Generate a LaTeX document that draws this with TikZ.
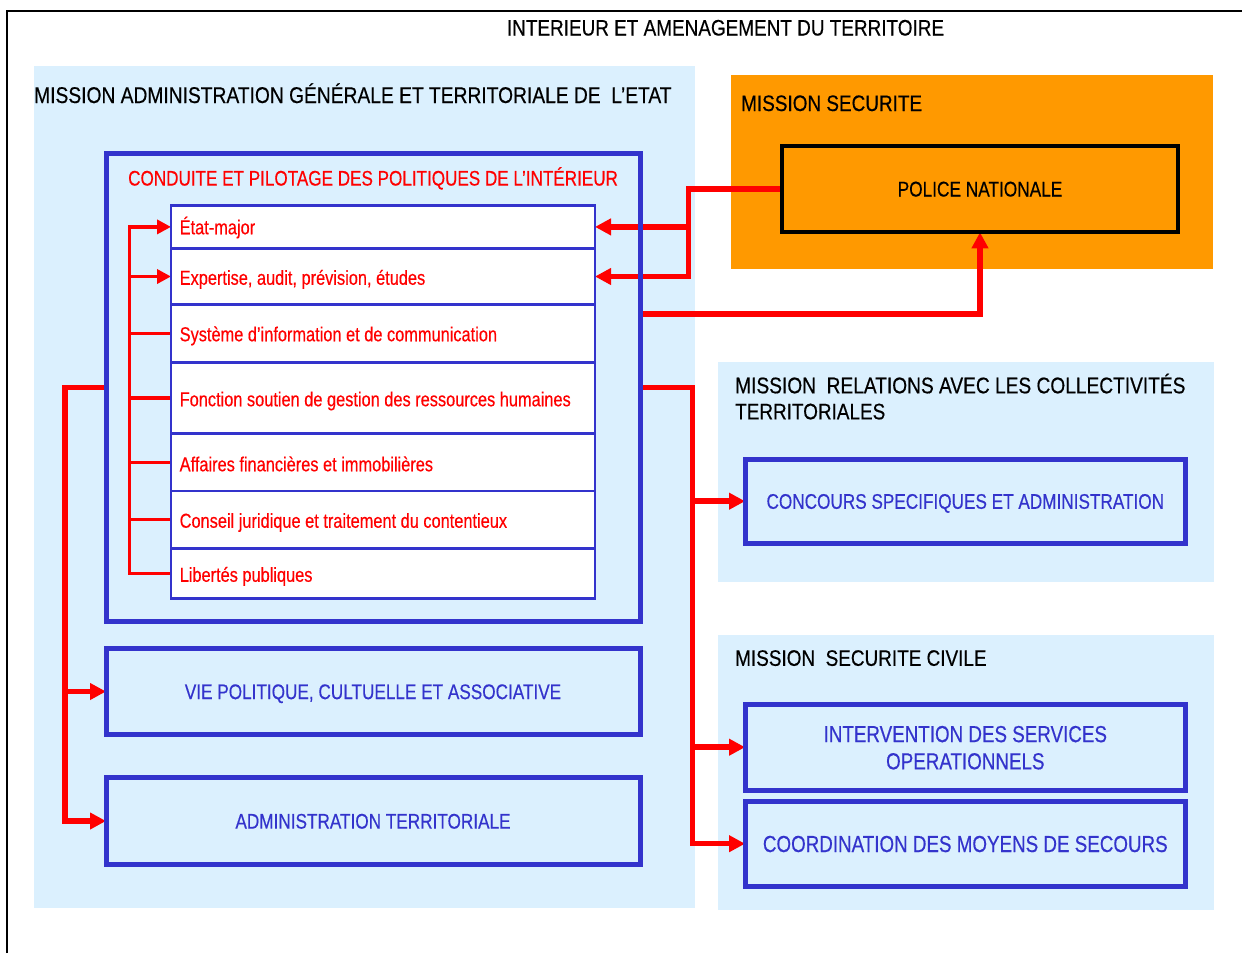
\documentclass[tikz,border=0pt]{standalone}
\usepackage{fontspec}
\setmainfont[FakeStretch=0.81,FakeBold=0.4]{Liberation Sans}
\newfontfamily\mfont[FakeStretch=0.845,FakeBold=0.4]{Liberation Sans}
\usetikzlibrary{arrows.meta,calc}
\definecolor{panel}{HTML}{DBF0FE}
\definecolor{orng}{HTML}{FF9900}
\definecolor{bl}{HTML}{3333CC}
\definecolor{rd}{HTML}{FF0000}
\pgfdeclarelayer{back}
\pgfdeclarelayer{mid}
\pgfsetlayers{back,mid,main}
\tikzset{
  bbox/.style={draw=bl, line width=5pt, inner sep=0pt, outer sep=0pt,
    minimum width=440.5pt, minimum height=85pt, text=bl,
    font=\fontsize{21.2}{25}\selectfont, text height=15.2pt, text depth=0pt},
  bigfont/.style={font=\fontsize{23.2}{27}\selectfont, text height=16.6pt, text depth=0pt},
  wbox/.style={bbox, minimum width=534pt, minimum height=86.5pt},
  rowbox/.style={draw=bl, line width=2.5pt, fill=white, inner sep=0pt, outer sep=0pt,
    minimum width=424pt},
  rowtxt/.style={anchor=west, inner sep=0pt, text=rd,
    font=\fontsize{20.2}{24}\selectfont, text height=14.5pt, text depth=0pt},
  btxt/.style={inner sep=0pt, text=bl, bigfont},
  mtxt/.style={anchor=west, inner sep=0pt, text=black,
    font=\mfont\fontsize{22.4}{27}\selectfont, text height=16pt, text depth=0pt},
  redthick/.style={draw=rd, line width=5.5pt},
  redthin/.style={draw=rd, line width=3.5pt},
  bigtip/.style={-{Triangle[length=16pt,width=16pt]}},
  smalltip/.style={{Triangle[length=14pt,width=14pt]}-},
}
\begin{document}
\begin{tikzpicture}[x=1pt,y=-1pt]
\useasboundingbox (0,0) rectangle (1242,953);
% panels
\begin{pgfonlayer}{back}
\fill[panel] (34,66) rectangle (695,908);
\fill[orng] (731,75) rectangle (1213,268.5);
\fill[panel] (718,362) rectangle (1214,582);
\fill[panel] (718,635) rectangle (1214,910);
\end{pgfonlayer}
% frame
\draw[line width=2pt] (7,953) -- (7,11) -- (1242,11);
% titles
\node[mtxt, anchor=center] (title) at (725.5,27.5) {INTERIEUR ET AMENAGEMENT DU TERRITOIRE};
\node[mtxt, font=\mfont\fontsize{22.75}{27}\selectfont] (madmin) at (34,95) {MISSION ADMINISTRATION GÉNÉRALE ET TERRITORIALE DE\ \ L’ETAT};
\node[mtxt] (msec) at (741,103) {MISSION SECURITE};
\node[mtxt, font=\mfont\fontsize{22.65}{27}\selectfont] (mrel1) at (735,385.3) {MISSION\ \ RELATIONS AVEC LES COLLECTIVITÉS};
\node[mtxt] (mrel2) at (735,411.3) {TERRITORIALES};
\node[mtxt] (mciv) at (735,657.8) {MISSION\ \ SECURITE CIVILE};
% police
\node[draw=black, line width=4pt, inner sep=0pt, outer sep=0pt, minimum width=396pt,
  minimum height=86.8pt, font=\fontsize{21.3}{25}\selectfont, text height=15.2pt,
  text depth=0pt] (police) at (980,188.9) {POLICE NATIONALE};
% conduite
\node[draw=bl, line width=5pt, inner sep=0pt, outer sep=0pt, minimum width=534pt,
  minimum height=468pt] (conduite) at (373,387.5) {};
\node[rowtxt, font=\fontsize{21.1}{25}\selectfont, text height=15.1pt] (ctitle) at (128,178) {CONDUITE ET PILOTAGE DES POLITIQUES DE L’INTÉRIEUR};
% rows
\node[rowbox, minimum height=42.8pt] (r1) at (383,226.9) {};
\node[rowbox, minimum height=56.4pt] (r2) at (383,276.5) {};
\node[rowbox, minimum height=57.6pt] (r3) at (383,333.5) {};
\node[rowbox, minimum height=71.4pt] (r4) at (383,398) {};
\node[rowbox, minimum height=57.3pt] (r5) at (383,462.35) {};
\node[rowbox, minimum height=57.3pt] (r6) at (383,519.65) {};
\node[rowbox, minimum height=50.4pt] (r7) at (383,573.5) {};
\node[rowtxt] (t1) at (179.5,227) {État-major};
\node[rowtxt] (t2) at (179.5,277.5) {Expertise, audit, prévision, études};
\node[rowtxt] (t3) at (179.5,334) {Système d’information et de communication};
\node[rowtxt] (t4) at (179.5,399) {Fonction soutien de gestion des ressources humaines};
\node[rowtxt] (t5) at (179.5,464) {Affaires financières et immobilières};
\node[rowtxt] (t6) at (179.5,520.5) {Conseil juridique et traitement du contentieux};
\node[rowtxt] (t7) at (179.5,574.5) {Libertés publiques};
% other boxes
\node[wbox] (vie) at (373,691.5) {VIE POLITIQUE, CULTUELLE ET ASSOCIATIVE};
\node[wbox] (admin) at (373,821) {ADMINISTRATION TERRITORIALE};
\node[bbox, minimum height=84.3pt] (concours) at (965.3,501.2) {CONCOURS SPECIFIQUES ET ADMINISTRATION};
\node[bbox, minimum height=85.7pt] (interv) at (965.3,747.2) {};
\node[btxt] (int1) at (965.3,733.8) {INTERVENTION DES SERVICES};
\node[btxt] (int2) at (965.3,761) {OPERATIONNELS};
\node[bbox, bigfont, minimum height=85.3pt] (coord) at (965.3,843.7) {COORDINATION DES MOYENS DE SECOURS};
% connectors
\coordinate (bx) at (129.7,400);
\coordinate (lx) at (65,400);
\coordinate (rx) at (692.3,400);
\coordinate (px) at (688.7,250);
\begin{pgfonlayer}{mid}
\draw[redthin, smalltip] (r1.west) -- (r1.west -| bx) -- (r7.west -| bx) -- (r7.west);
\draw[redthin, -{Triangle[length=14pt,width=14pt]}] (r2.west -| bx) -- (r2.west);
\foreach \r in {r3,r4,r5,r6} \draw[redthin] (\r.west -| bx) -- (\r.west);
\draw[redthick, bigtip] (conduite.west) -- (conduite.west -| lx) -- (admin.west -| lx) -- (admin.west);
\draw[redthick, bigtip] (vie.west -| lx) -- (vie.west);
\draw[redthick, bigtip] (conduite.east) -- (conduite.east -| rx) -- (coord.west -| rx) -- (coord.west);
\draw[redthick, bigtip] (concours.west -| rx) -- (concours.west);
\draw[redthick, bigtip] (interv.west -| rx) -- (interv.west);
\draw[redthick, bigtip] (police.west) -- (police.west -| px) -- (r2.east -| px) -- (r2.east);
\draw[redthick, bigtip] (r1.east -| px) -- (r1.east);
\draw[redthick, bigtip] ([yshift=73.5pt]conduite.east) -| (police.south);
\end{pgfonlayer}
\end{tikzpicture}
\end{document}
